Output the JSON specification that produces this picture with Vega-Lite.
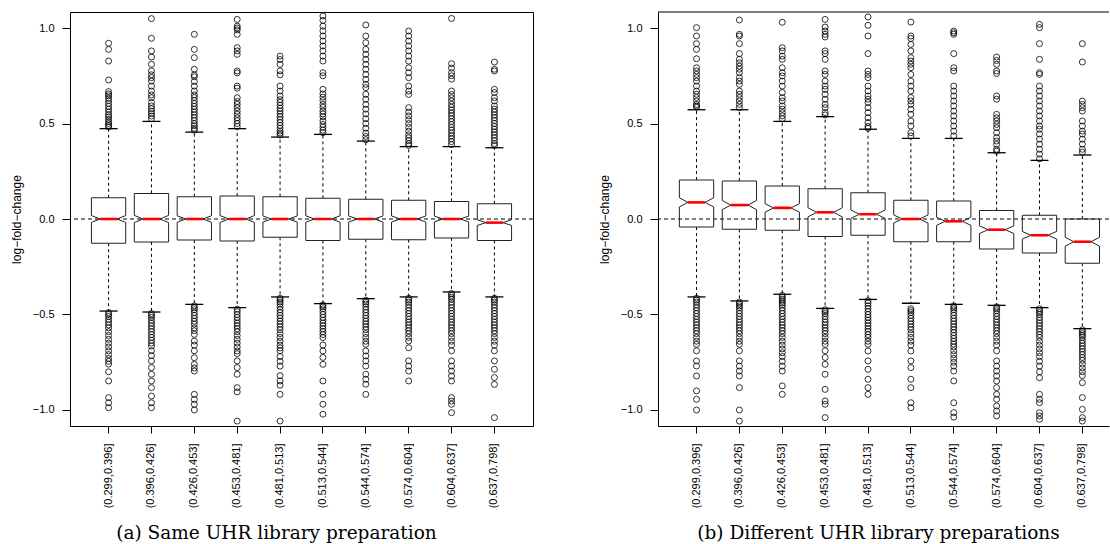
{
"$schema": "https://vega.github.io/schema/vega-lite/v6.json",
"autosize": {"type": "pad"},
"padding": {"left": 9, "top": 10, "right": 0, "bottom": 0},
"background": "white",
"bounds": "flush",
"spacing": 125,
"config": {
  "view": {"stroke": "#000", "strokeWidth": 1},
  "axis": {"grid": false, "domain": false, "tickColor": "#000", "labelColor": "#000", "titleColor": "#000", "labelFont": "Liberation Sans", "titleFont": "Liberation Sans", "titleFontWeight": "normal", "labelFontSize": 11, "titleFontSize": 12},
  "title": {"font": "DejaVu Serif", "fontSize": 18.5, "fontWeight": "normal", "color": "#000"}
},
"datasets": {
"boxA": [
{"b":"(0.299,0.396]","q1":-0.127,"q3":0.111,"med":0.0,"nlo":-0.018,"nhi":0.018,"lw":-0.482,"uw":0.473},
{"b":"(0.396,0.426]","q1":-0.120,"q3":0.134,"med":0.0,"nlo":-0.019,"nhi":0.019,"lw":-0.487,"uw":0.511},
{"b":"(0.426,0.453]","q1":-0.110,"q3":0.117,"med":0.0,"nlo":-0.017,"nhi":0.017,"lw":-0.447,"uw":0.455},
{"b":"(0.453,0.481]","q1":-0.115,"q3":0.120,"med":0.0,"nlo":-0.018,"nhi":0.018,"lw":-0.464,"uw":0.473},
{"b":"(0.481,0.513]","q1":-0.096,"q3":0.117,"med":0.0,"nlo":-0.016,"nhi":0.016,"lw":-0.408,"uw":0.429},
{"b":"(0.513,0.544]","q1":-0.112,"q3":0.108,"med":0.0,"nlo":-0.017,"nhi":0.017,"lw":-0.443,"uw":0.443},
{"b":"(0.544,0.574]","q1":-0.106,"q3":0.103,"med":0.0,"nlo":-0.016,"nhi":0.016,"lw":-0.417,"uw":0.408},
{"b":"(0.574,0.604]","q1":-0.108,"q3":0.098,"med":0.0,"nlo":-0.016,"nhi":0.016,"lw":-0.408,"uw":0.379},
{"b":"(0.604,0.637]","q1":-0.099,"q3":0.092,"med":0.0,"nlo":-0.015,"nhi":0.015,"lw":-0.382,"uw":0.379},
{"b":"(0.637,0.798]","q1":-0.112,"q3":0.080,"med":-0.019,"nlo":-0.034,"nhi":-0.004,"lw":-0.408,"uw":0.373}
],
"boxB": [
{"b":"(0.299,0.396]","q1":-0.042,"q3":0.204,"med":0.087,"nlo":0.063,"nhi":0.111,"lw":-0.408,"uw":0.572},
{"b":"(0.396,0.426]","q1":-0.054,"q3":0.199,"med":0.073,"nlo":0.049,"nhi":0.097,"lw":-0.429,"uw":0.572},
{"b":"(0.426,0.453]","q1":-0.059,"q3":0.173,"med":0.058,"nlo":0.036,"nhi":0.080,"lw":-0.394,"uw":0.511},
{"b":"(0.453,0.481]","q1":-0.091,"q3":0.159,"med":0.035,"nlo":0.011,"nhi":0.059,"lw":-0.468,"uw":0.536},
{"b":"(0.481,0.513]","q1":-0.085,"q3":0.138,"med":0.025,"nlo":0.003,"nhi":0.047,"lw":-0.421,"uw":0.470},
{"b":"(0.513,0.544]","q1":-0.119,"q3":0.098,"med":0.0,"nlo":-0.021,"nhi":0.021,"lw":-0.441,"uw":0.422},
{"b":"(0.544,0.574]","q1":-0.119,"q3":0.094,"med":-0.012,"nlo":-0.033,"nhi":0.009,"lw":-0.447,"uw":0.422},
{"b":"(0.574,0.604]","q1":-0.157,"q3":0.045,"med":-0.056,"nlo":-0.076,"nhi":-0.036,"lw":-0.452,"uw":0.347},
{"b":"(0.604,0.637]","q1":-0.178,"q3":0.019,"med":-0.085,"nlo":-0.105,"nhi":-0.065,"lw":-0.464,"uw":0.307},
{"b":"(0.637,0.798]","q1":-0.232,"q3":0.0,"med":-0.119,"nlo":-0.142,"nhi":-0.096,"lw":-0.574,"uw":0.335}
],
"outA": [
{"b":"(0.299,0.396]","v":0.920},{"b":"(0.299,0.396]","v":0.888},{"b":"(0.299,0.396]","v":0.827},{"b":"(0.299,0.396]","v":0.728},{"b":"(0.299,0.396]","v":0.667},{"b":"(0.299,0.396]","v":0.655},{"b":"(0.299,0.396]","v":0.645},{"b":"(0.299,0.396]","v":0.632},{"b":"(0.299,0.396]","v":0.620},{"b":"(0.299,0.396]","v":0.605},{"b":"(0.299,0.396]","v":0.590},{"b":"(0.299,0.396]","v":0.575},{"b":"(0.299,0.396]","v":0.560},{"b":"(0.299,0.396]","v":0.545},{"b":"(0.299,0.396]","v":0.535},{"b":"(0.299,0.396]","v":0.522},{"b":"(0.299,0.396]","v":0.510},{"b":"(0.299,0.396]","v":0.500},{"b":"(0.299,0.396]","v":0.490},{"b":"(0.299,0.396]","v":0.482},
{"b":"(0.299,0.396]","v":-0.490},{"b":"(0.299,0.396]","v":-0.500},{"b":"(0.299,0.396]","v":-0.510},{"b":"(0.299,0.396]","v":-0.525},{"b":"(0.299,0.396]","v":-0.540},{"b":"(0.299,0.396]","v":-0.555},{"b":"(0.299,0.396]","v":-0.570},{"b":"(0.299,0.396]","v":-0.590},{"b":"(0.299,0.396]","v":-0.610},{"b":"(0.299,0.396]","v":-0.630},{"b":"(0.299,0.396]","v":-0.650},{"b":"(0.299,0.396]","v":-0.670},{"b":"(0.299,0.396]","v":-0.690},{"b":"(0.299,0.396]","v":-0.710},{"b":"(0.299,0.396]","v":-0.730},{"b":"(0.299,0.396]","v":-0.745},{"b":"(0.299,0.396]","v":-0.760},{"b":"(0.299,0.396]","v":-0.800},{"b":"(0.299,0.396]","v":-0.848},{"b":"(0.299,0.396]","v":-0.935},{"b":"(0.299,0.396]","v":-0.962},{"b":"(0.299,0.396]","v":-0.988},
{"b":"(0.396,0.426]","v":1.049},{"b":"(0.396,0.426]","v":0.946},{"b":"(0.396,0.426]","v":0.880},{"b":"(0.396,0.426]","v":0.848},{"b":"(0.396,0.426]","v":0.810},{"b":"(0.396,0.426]","v":0.775},{"b":"(0.396,0.426]","v":0.755},{"b":"(0.396,0.426]","v":0.740},{"b":"(0.396,0.426]","v":0.722},{"b":"(0.396,0.426]","v":0.696},{"b":"(0.396,0.426]","v":0.670},{"b":"(0.396,0.426]","v":0.650},{"b":"(0.396,0.426]","v":0.635},{"b":"(0.396,0.426]","v":0.610},{"b":"(0.396,0.426]","v":0.592},{"b":"(0.396,0.426]","v":0.578},{"b":"(0.396,0.426]","v":0.565},{"b":"(0.396,0.426]","v":0.552},{"b":"(0.396,0.426]","v":0.539},{"b":"(0.396,0.426]","v":0.525},
{"b":"(0.396,0.426]","v":-0.495},{"b":"(0.396,0.426]","v":-0.505},{"b":"(0.396,0.426]","v":-0.515},{"b":"(0.396,0.426]","v":-0.530},{"b":"(0.396,0.426]","v":-0.545},{"b":"(0.396,0.426]","v":-0.560},{"b":"(0.396,0.426]","v":-0.575},{"b":"(0.396,0.426]","v":-0.590},{"b":"(0.396,0.426]","v":-0.605},{"b":"(0.396,0.426]","v":-0.620},{"b":"(0.396,0.426]","v":-0.635},{"b":"(0.396,0.426]","v":-0.650},{"b":"(0.396,0.426]","v":-0.665},{"b":"(0.396,0.426]","v":-0.690},{"b":"(0.396,0.426]","v":-0.715},{"b":"(0.396,0.426]","v":-0.743},{"b":"(0.396,0.426]","v":-0.778},{"b":"(0.396,0.426]","v":-0.813},{"b":"(0.396,0.426]","v":-0.848},{"b":"(0.396,0.426]","v":-0.883},{"b":"(0.396,0.426]","v":-0.927},{"b":"(0.396,0.426]","v":-0.962},{"b":"(0.396,0.426]","v":-0.988},
{"b":"(0.426,0.453]","v":0.967},{"b":"(0.426,0.453]","v":0.888},{"b":"(0.426,0.453]","v":0.845},{"b":"(0.426,0.453]","v":0.784},{"b":"(0.426,0.453]","v":0.755},{"b":"(0.426,0.453]","v":0.745},{"b":"(0.426,0.453]","v":0.720},{"b":"(0.426,0.453]","v":0.696},{"b":"(0.426,0.453]","v":0.670},{"b":"(0.426,0.453]","v":0.650},{"b":"(0.426,0.453]","v":0.636},{"b":"(0.426,0.453]","v":0.620},{"b":"(0.426,0.453]","v":0.605},{"b":"(0.426,0.453]","v":0.590},{"b":"(0.426,0.453]","v":0.575},{"b":"(0.426,0.453]","v":0.560},{"b":"(0.426,0.453]","v":0.545},{"b":"(0.426,0.453]","v":0.530},{"b":"(0.426,0.453]","v":0.515},{"b":"(0.426,0.453]","v":0.500},{"b":"(0.426,0.453]","v":0.488},{"b":"(0.426,0.453]","v":0.475},{"b":"(0.426,0.453]","v":0.465},
{"b":"(0.426,0.453]","v":-0.455},{"b":"(0.426,0.453]","v":-0.465},{"b":"(0.426,0.453]","v":-0.475},{"b":"(0.426,0.453]","v":-0.490},{"b":"(0.426,0.453]","v":-0.505},{"b":"(0.426,0.453]","v":-0.520},{"b":"(0.426,0.453]","v":-0.535},{"b":"(0.426,0.453]","v":-0.550},{"b":"(0.426,0.453]","v":-0.570},{"b":"(0.426,0.453]","v":-0.585},{"b":"(0.426,0.453]","v":-0.604},{"b":"(0.426,0.453]","v":-0.639},{"b":"(0.426,0.453]","v":-0.660},{"b":"(0.426,0.453]","v":-0.690},{"b":"(0.426,0.453]","v":-0.726},{"b":"(0.426,0.453]","v":-0.761},{"b":"(0.426,0.453]","v":-0.780},{"b":"(0.426,0.453]","v":-0.796},{"b":"(0.426,0.453]","v":-0.918},{"b":"(0.426,0.453]","v":-0.945},{"b":"(0.426,0.453]","v":-0.970},{"b":"(0.426,0.453]","v":-1.000},
{"b":"(0.453,0.481]","v":1.045},{"b":"(0.453,0.481]","v":1.010},{"b":"(0.453,0.481]","v":1.000},{"b":"(0.453,0.481]","v":0.990},{"b":"(0.453,0.481]","v":0.967},{"b":"(0.453,0.481]","v":0.897},{"b":"(0.453,0.481]","v":0.880},{"b":"(0.453,0.481]","v":0.862},{"b":"(0.453,0.481]","v":0.775},{"b":"(0.453,0.481]","v":0.765},{"b":"(0.453,0.481]","v":0.696},{"b":"(0.453,0.481]","v":0.685},{"b":"(0.453,0.481]","v":0.635},{"b":"(0.453,0.481]","v":0.615},{"b":"(0.453,0.481]","v":0.600},{"b":"(0.453,0.481]","v":0.583},{"b":"(0.453,0.481]","v":0.565},{"b":"(0.453,0.481]","v":0.548},{"b":"(0.453,0.481]","v":0.530},{"b":"(0.453,0.481]","v":0.515},{"b":"(0.453,0.481]","v":0.500},{"b":"(0.453,0.481]","v":0.485},
{"b":"(0.453,0.481]","v":-0.472},{"b":"(0.453,0.481]","v":-0.485},{"b":"(0.453,0.481]","v":-0.500},{"b":"(0.453,0.481]","v":-0.515},{"b":"(0.453,0.481]","v":-0.530},{"b":"(0.453,0.481]","v":-0.545},{"b":"(0.453,0.481]","v":-0.560},{"b":"(0.453,0.481]","v":-0.575},{"b":"(0.453,0.481]","v":-0.590},{"b":"(0.453,0.481]","v":-0.610},{"b":"(0.453,0.481]","v":-0.630},{"b":"(0.453,0.481]","v":-0.650},{"b":"(0.453,0.481]","v":-0.670},{"b":"(0.453,0.481]","v":-0.691},{"b":"(0.453,0.481]","v":-0.705},{"b":"(0.453,0.481]","v":-0.743},{"b":"(0.453,0.481]","v":-0.778},{"b":"(0.453,0.481]","v":-0.813},{"b":"(0.453,0.481]","v":-0.883},{"b":"(0.453,0.481]","v":-0.905},{"b":"(0.453,0.481]","v":-1.058},
{"b":"(0.481,0.513]","v":0.853},{"b":"(0.481,0.513]","v":0.835},{"b":"(0.481,0.513]","v":0.810},{"b":"(0.481,0.513]","v":0.775},{"b":"(0.481,0.513]","v":0.755},{"b":"(0.481,0.513]","v":0.696},{"b":"(0.481,0.513]","v":0.670},{"b":"(0.481,0.513]","v":0.644},{"b":"(0.481,0.513]","v":0.625},{"b":"(0.481,0.513]","v":0.610},{"b":"(0.481,0.513]","v":0.595},{"b":"(0.481,0.513]","v":0.580},{"b":"(0.481,0.513]","v":0.565},{"b":"(0.481,0.513]","v":0.550},{"b":"(0.481,0.513]","v":0.535},{"b":"(0.481,0.513]","v":0.520},{"b":"(0.481,0.513]","v":0.505},{"b":"(0.481,0.513]","v":0.490},{"b":"(0.481,0.513]","v":0.475},{"b":"(0.481,0.513]","v":0.460},{"b":"(0.481,0.513]","v":0.450},{"b":"(0.481,0.513]","v":0.440},
{"b":"(0.481,0.513]","v":-0.415},{"b":"(0.481,0.513]","v":-0.425},{"b":"(0.481,0.513]","v":-0.435},{"b":"(0.481,0.513]","v":-0.445},{"b":"(0.481,0.513]","v":-0.460},{"b":"(0.481,0.513]","v":-0.475},{"b":"(0.481,0.513]","v":-0.490},{"b":"(0.481,0.513]","v":-0.505},{"b":"(0.481,0.513]","v":-0.520},{"b":"(0.481,0.513]","v":-0.535},{"b":"(0.481,0.513]","v":-0.550},{"b":"(0.481,0.513]","v":-0.565},{"b":"(0.481,0.513]","v":-0.580},{"b":"(0.481,0.513]","v":-0.600},{"b":"(0.481,0.513]","v":-0.620},{"b":"(0.481,0.513]","v":-0.640},{"b":"(0.481,0.513]","v":-0.660},{"b":"(0.481,0.513]","v":-0.675},{"b":"(0.481,0.513]","v":-0.690},{"b":"(0.481,0.513]","v":-0.720},{"b":"(0.481,0.513]","v":-0.745},{"b":"(0.481,0.513]","v":-0.770},{"b":"(0.481,0.513]","v":-0.820},{"b":"(0.481,0.513]","v":-0.848},{"b":"(0.481,0.513]","v":-0.870},{"b":"(0.481,0.513]","v":-0.918},{"b":"(0.481,0.513]","v":-1.058},
{"b":"(0.513,0.544]","v":1.063},{"b":"(0.513,0.544]","v":1.040},{"b":"(0.513,0.544]","v":1.010},{"b":"(0.513,0.544]","v":0.985},{"b":"(0.513,0.544]","v":0.958},{"b":"(0.513,0.544]","v":0.932},{"b":"(0.513,0.544]","v":0.906},{"b":"(0.513,0.544]","v":0.880},{"b":"(0.513,0.544]","v":0.853},{"b":"(0.513,0.544]","v":0.827},{"b":"(0.513,0.544]","v":0.766},{"b":"(0.513,0.544]","v":0.750},{"b":"(0.513,0.544]","v":0.679},{"b":"(0.513,0.544]","v":0.655},{"b":"(0.513,0.544]","v":0.638},{"b":"(0.513,0.544]","v":0.620},{"b":"(0.513,0.544]","v":0.600},{"b":"(0.513,0.544]","v":0.585},{"b":"(0.513,0.544]","v":0.565},{"b":"(0.513,0.544]","v":0.550},{"b":"(0.513,0.544]","v":0.535},{"b":"(0.513,0.544]","v":0.513},{"b":"(0.513,0.544]","v":0.495},{"b":"(0.513,0.544]","v":0.480},{"b":"(0.513,0.544]","v":0.465},{"b":"(0.513,0.544]","v":0.452},
{"b":"(0.513,0.544]","v":-0.450},{"b":"(0.513,0.544]","v":-0.460},{"b":"(0.513,0.544]","v":-0.470},{"b":"(0.513,0.544]","v":-0.485},{"b":"(0.513,0.544]","v":-0.500},{"b":"(0.513,0.544]","v":-0.515},{"b":"(0.513,0.544]","v":-0.530},{"b":"(0.513,0.544]","v":-0.545},{"b":"(0.513,0.544]","v":-0.560},{"b":"(0.513,0.544]","v":-0.575},{"b":"(0.513,0.544]","v":-0.590},{"b":"(0.513,0.544]","v":-0.605},{"b":"(0.513,0.544]","v":-0.621},{"b":"(0.513,0.544]","v":-0.660},{"b":"(0.513,0.544]","v":-0.691},{"b":"(0.513,0.544]","v":-0.725},{"b":"(0.513,0.544]","v":-0.761},{"b":"(0.513,0.544]","v":-0.848},{"b":"(0.513,0.544]","v":-0.918},{"b":"(0.513,0.544]","v":-0.970},{"b":"(0.513,0.544]","v":-1.022},
{"b":"(0.544,0.574]","v":1.016},{"b":"(0.544,0.574]","v":0.958},{"b":"(0.544,0.574]","v":0.923},{"b":"(0.544,0.574]","v":0.888},{"b":"(0.544,0.574]","v":0.862},{"b":"(0.544,0.574]","v":0.836},{"b":"(0.544,0.574]","v":0.810},{"b":"(0.544,0.574]","v":0.784},{"b":"(0.544,0.574]","v":0.757},{"b":"(0.544,0.574]","v":0.731},{"b":"(0.544,0.574]","v":0.705},{"b":"(0.544,0.574]","v":0.688},{"b":"(0.544,0.574]","v":0.653},{"b":"(0.544,0.574]","v":0.627},{"b":"(0.544,0.574]","v":0.600},{"b":"(0.544,0.574]","v":0.575},{"b":"(0.544,0.574]","v":0.550},{"b":"(0.544,0.574]","v":0.525},{"b":"(0.544,0.574]","v":0.500},{"b":"(0.544,0.574]","v":0.475},{"b":"(0.544,0.574]","v":0.450},{"b":"(0.544,0.574]","v":0.432},{"b":"(0.544,0.574]","v":0.415},
{"b":"(0.544,0.574]","v":-0.425},{"b":"(0.544,0.574]","v":-0.435},{"b":"(0.544,0.574]","v":-0.445},{"b":"(0.544,0.574]","v":-0.460},{"b":"(0.544,0.574]","v":-0.475},{"b":"(0.544,0.574]","v":-0.490},{"b":"(0.544,0.574]","v":-0.505},{"b":"(0.544,0.574]","v":-0.520},{"b":"(0.544,0.574]","v":-0.535},{"b":"(0.544,0.574]","v":-0.550},{"b":"(0.544,0.574]","v":-0.565},{"b":"(0.544,0.574]","v":-0.580},{"b":"(0.544,0.574]","v":-0.600},{"b":"(0.544,0.574]","v":-0.620},{"b":"(0.544,0.574]","v":-0.640},{"b":"(0.544,0.574]","v":-0.656},{"b":"(0.544,0.574]","v":-0.691},{"b":"(0.544,0.574]","v":-0.717},{"b":"(0.544,0.574]","v":-0.743},{"b":"(0.544,0.574]","v":-0.770},{"b":"(0.544,0.574]","v":-0.813},{"b":"(0.544,0.574]","v":-0.839},{"b":"(0.544,0.574]","v":-0.865},{"b":"(0.544,0.574]","v":-0.918},
{"b":"(0.574,0.604]","v":0.984},{"b":"(0.574,0.604]","v":0.958},{"b":"(0.574,0.604]","v":0.932},{"b":"(0.574,0.604]","v":0.906},{"b":"(0.574,0.604]","v":0.880},{"b":"(0.574,0.604]","v":0.853},{"b":"(0.574,0.604]","v":0.827},{"b":"(0.574,0.604]","v":0.792},{"b":"(0.574,0.604]","v":0.766},{"b":"(0.574,0.604]","v":0.740},{"b":"(0.574,0.604]","v":0.696},{"b":"(0.574,0.604]","v":0.670},{"b":"(0.574,0.604]","v":0.652},{"b":"(0.574,0.604]","v":0.583},{"b":"(0.574,0.604]","v":0.560},{"b":"(0.574,0.604]","v":0.540},{"b":"(0.574,0.604]","v":0.520},{"b":"(0.574,0.604]","v":0.500},{"b":"(0.574,0.604]","v":0.480},{"b":"(0.574,0.604]","v":0.460},{"b":"(0.574,0.604]","v":0.440},{"b":"(0.574,0.604]","v":0.425},{"b":"(0.574,0.604]","v":0.410},{"b":"(0.574,0.604]","v":0.395},{"b":"(0.574,0.604]","v":0.385},
{"b":"(0.574,0.604]","v":-0.415},{"b":"(0.574,0.604]","v":-0.425},{"b":"(0.574,0.604]","v":-0.435},{"b":"(0.574,0.604]","v":-0.450},{"b":"(0.574,0.604]","v":-0.465},{"b":"(0.574,0.604]","v":-0.480},{"b":"(0.574,0.604]","v":-0.495},{"b":"(0.574,0.604]","v":-0.510},{"b":"(0.574,0.604]","v":-0.525},{"b":"(0.574,0.604]","v":-0.540},{"b":"(0.574,0.604]","v":-0.555},{"b":"(0.574,0.604]","v":-0.570},{"b":"(0.574,0.604]","v":-0.585},{"b":"(0.574,0.604]","v":-0.600},{"b":"(0.574,0.604]","v":-0.620},{"b":"(0.574,0.604]","v":-0.639},{"b":"(0.574,0.604]","v":-0.674},{"b":"(0.574,0.604]","v":-0.743},{"b":"(0.574,0.604]","v":-0.770},{"b":"(0.574,0.604]","v":-0.796},{"b":"(0.574,0.604]","v":-0.848},
{"b":"(0.604,0.637]","v":1.050},{"b":"(0.604,0.637]","v":0.813},{"b":"(0.604,0.637]","v":0.790},{"b":"(0.604,0.637]","v":0.766},{"b":"(0.604,0.637]","v":0.750},{"b":"(0.604,0.637]","v":0.732},{"b":"(0.604,0.637]","v":0.670},{"b":"(0.604,0.637]","v":0.652},{"b":"(0.604,0.637]","v":0.635},{"b":"(0.604,0.637]","v":0.618},{"b":"(0.604,0.637]","v":0.600},{"b":"(0.604,0.637]","v":0.585},{"b":"(0.604,0.637]","v":0.570},{"b":"(0.604,0.637]","v":0.555},{"b":"(0.604,0.637]","v":0.540},{"b":"(0.604,0.637]","v":0.525},{"b":"(0.604,0.637]","v":0.510},{"b":"(0.604,0.637]","v":0.495},{"b":"(0.604,0.637]","v":0.480},{"b":"(0.604,0.637]","v":0.465},{"b":"(0.604,0.637]","v":0.450},{"b":"(0.604,0.637]","v":0.435},{"b":"(0.604,0.637]","v":0.420},{"b":"(0.604,0.637]","v":0.405},{"b":"(0.604,0.637]","v":0.390},
{"b":"(0.604,0.637]","v":-0.390},{"b":"(0.604,0.637]","v":-0.400},{"b":"(0.604,0.637]","v":-0.410},{"b":"(0.604,0.637]","v":-0.420},{"b":"(0.604,0.637]","v":-0.435},{"b":"(0.604,0.637]","v":-0.450},{"b":"(0.604,0.637]","v":-0.465},{"b":"(0.604,0.637]","v":-0.480},{"b":"(0.604,0.637]","v":-0.495},{"b":"(0.604,0.637]","v":-0.510},{"b":"(0.604,0.637]","v":-0.525},{"b":"(0.604,0.637]","v":-0.540},{"b":"(0.604,0.637]","v":-0.555},{"b":"(0.604,0.637]","v":-0.570},{"b":"(0.604,0.637]","v":-0.585},{"b":"(0.604,0.637]","v":-0.600},{"b":"(0.604,0.637]","v":-0.620},{"b":"(0.604,0.637]","v":-0.640},{"b":"(0.604,0.637]","v":-0.660},{"b":"(0.604,0.637]","v":-0.690},{"b":"(0.604,0.637]","v":-0.743},{"b":"(0.604,0.637]","v":-0.770},{"b":"(0.604,0.637]","v":-0.796},{"b":"(0.604,0.637]","v":-0.822},{"b":"(0.604,0.637]","v":-0.848},{"b":"(0.604,0.637]","v":-0.935},{"b":"(0.604,0.637]","v":-0.953},{"b":"(0.604,0.637]","v":-0.970},{"b":"(0.604,0.637]","v":-1.014},
{"b":"(0.637,0.798]","v":0.822},{"b":"(0.637,0.798]","v":0.784},{"b":"(0.637,0.798]","v":0.775},{"b":"(0.637,0.798]","v":0.679},{"b":"(0.637,0.798]","v":0.662},{"b":"(0.637,0.798]","v":0.635},{"b":"(0.637,0.798]","v":0.618},{"b":"(0.637,0.798]","v":0.592},{"b":"(0.637,0.798]","v":0.575},{"b":"(0.637,0.798]","v":0.560},{"b":"(0.637,0.798]","v":0.545},{"b":"(0.637,0.798]","v":0.530},{"b":"(0.637,0.798]","v":0.515},{"b":"(0.637,0.798]","v":0.500},{"b":"(0.637,0.798]","v":0.485},{"b":"(0.637,0.798]","v":0.470},{"b":"(0.637,0.798]","v":0.455},{"b":"(0.637,0.798]","v":0.440},{"b":"(0.637,0.798]","v":0.425},{"b":"(0.637,0.798]","v":0.410},{"b":"(0.637,0.798]","v":0.395},{"b":"(0.637,0.798]","v":0.385},
{"b":"(0.637,0.798]","v":-0.415},{"b":"(0.637,0.798]","v":-0.425},{"b":"(0.637,0.798]","v":-0.435},{"b":"(0.637,0.798]","v":-0.450},{"b":"(0.637,0.798]","v":-0.465},{"b":"(0.637,0.798]","v":-0.480},{"b":"(0.637,0.798]","v":-0.495},{"b":"(0.637,0.798]","v":-0.510},{"b":"(0.637,0.798]","v":-0.525},{"b":"(0.637,0.798]","v":-0.540},{"b":"(0.637,0.798]","v":-0.555},{"b":"(0.637,0.798]","v":-0.570},{"b":"(0.637,0.798]","v":-0.585},{"b":"(0.637,0.798]","v":-0.600},{"b":"(0.637,0.798]","v":-0.620},{"b":"(0.637,0.798]","v":-0.640},{"b":"(0.637,0.798]","v":-0.660},{"b":"(0.637,0.798]","v":-0.690},{"b":"(0.637,0.798]","v":-0.743},{"b":"(0.637,0.798]","v":-0.787},{"b":"(0.637,0.798]","v":-0.830},{"b":"(0.637,0.798]","v":-0.866},{"b":"(0.637,0.798]","v":-1.040}
],
"outB": [
{"b":"(0.299,0.396]","v":1.002},{"b":"(0.299,0.396]","v":0.958},{"b":"(0.299,0.396]","v":0.918},{"b":"(0.299,0.396]","v":0.888},{"b":"(0.299,0.396]","v":0.839},{"b":"(0.299,0.396]","v":0.792},{"b":"(0.299,0.396]","v":0.775},{"b":"(0.299,0.396]","v":0.757},{"b":"(0.299,0.396]","v":0.740},{"b":"(0.299,0.396]","v":0.722},{"b":"(0.299,0.396]","v":0.696},{"b":"(0.299,0.396]","v":0.670},{"b":"(0.299,0.396]","v":0.653},{"b":"(0.299,0.396]","v":0.636},{"b":"(0.299,0.396]","v":0.618},{"b":"(0.299,0.396]","v":0.600},{"b":"(0.299,0.396]","v":0.592},{"b":"(0.299,0.396]","v":0.585},
{"b":"(0.299,0.396]","v":-0.415},{"b":"(0.299,0.396]","v":-0.425},{"b":"(0.299,0.396]","v":-0.435},{"b":"(0.299,0.396]","v":-0.450},{"b":"(0.299,0.396]","v":-0.465},{"b":"(0.299,0.396]","v":-0.480},{"b":"(0.299,0.396]","v":-0.495},{"b":"(0.299,0.396]","v":-0.510},{"b":"(0.299,0.396]","v":-0.525},{"b":"(0.299,0.396]","v":-0.540},{"b":"(0.299,0.396]","v":-0.555},{"b":"(0.299,0.396]","v":-0.570},{"b":"(0.299,0.396]","v":-0.585},{"b":"(0.299,0.396]","v":-0.600},{"b":"(0.299,0.396]","v":-0.620},{"b":"(0.299,0.396]","v":-0.640},{"b":"(0.299,0.396]","v":-0.656},{"b":"(0.299,0.396]","v":-0.690},{"b":"(0.299,0.396]","v":-0.743},{"b":"(0.299,0.396]","v":-0.770},{"b":"(0.299,0.396]","v":-0.822},{"b":"(0.299,0.396]","v":-0.900},{"b":"(0.299,0.396]","v":-0.944},{"b":"(0.299,0.396]","v":-1.000},
{"b":"(0.396,0.426]","v":1.042},{"b":"(0.396,0.426]","v":0.967},{"b":"(0.396,0.426]","v":0.958},{"b":"(0.396,0.426]","v":0.918},{"b":"(0.396,0.426]","v":0.866},{"b":"(0.396,0.426]","v":0.836},{"b":"(0.396,0.426]","v":0.818},{"b":"(0.396,0.426]","v":0.800},{"b":"(0.396,0.426]","v":0.784},{"b":"(0.396,0.426]","v":0.766},{"b":"(0.396,0.426]","v":0.740},{"b":"(0.396,0.426]","v":0.722},{"b":"(0.396,0.426]","v":0.705},{"b":"(0.396,0.426]","v":0.670},{"b":"(0.396,0.426]","v":0.653},{"b":"(0.396,0.426]","v":0.636},{"b":"(0.396,0.426]","v":0.618},{"b":"(0.396,0.426]","v":0.600},{"b":"(0.396,0.426]","v":0.583},
{"b":"(0.396,0.426]","v":-0.435},{"b":"(0.396,0.426]","v":-0.445},{"b":"(0.396,0.426]","v":-0.455},{"b":"(0.396,0.426]","v":-0.465},{"b":"(0.396,0.426]","v":-0.480},{"b":"(0.396,0.426]","v":-0.495},{"b":"(0.396,0.426]","v":-0.510},{"b":"(0.396,0.426]","v":-0.525},{"b":"(0.396,0.426]","v":-0.540},{"b":"(0.396,0.426]","v":-0.555},{"b":"(0.396,0.426]","v":-0.570},{"b":"(0.396,0.426]","v":-0.585},{"b":"(0.396,0.426]","v":-0.600},{"b":"(0.396,0.426]","v":-0.620},{"b":"(0.396,0.426]","v":-0.640},{"b":"(0.396,0.426]","v":-0.656},{"b":"(0.396,0.426]","v":-0.690},{"b":"(0.396,0.426]","v":-0.743},{"b":"(0.396,0.426]","v":-0.770},{"b":"(0.396,0.426]","v":-0.796},{"b":"(0.396,0.426]","v":-0.822},{"b":"(0.396,0.426]","v":-0.883},{"b":"(0.396,0.426]","v":-1.000},{"b":"(0.396,0.426]","v":-1.058},
{"b":"(0.426,0.453]","v":1.030},{"b":"(0.426,0.453]","v":0.897},{"b":"(0.426,0.453]","v":0.880},{"b":"(0.426,0.453]","v":0.853},{"b":"(0.426,0.453]","v":0.836},{"b":"(0.426,0.453]","v":0.792},{"b":"(0.426,0.453]","v":0.766},{"b":"(0.426,0.453]","v":0.749},{"b":"(0.426,0.453]","v":0.722},{"b":"(0.426,0.453]","v":0.696},{"b":"(0.426,0.453]","v":0.662},{"b":"(0.426,0.453]","v":0.635},{"b":"(0.426,0.453]","v":0.618},{"b":"(0.426,0.453]","v":0.592},{"b":"(0.426,0.453]","v":0.575},{"b":"(0.426,0.453]","v":0.557},{"b":"(0.426,0.453]","v":0.540},{"b":"(0.426,0.453]","v":0.525},
{"b":"(0.426,0.453]","v":-0.400},{"b":"(0.426,0.453]","v":-0.410},{"b":"(0.426,0.453]","v":-0.420},{"b":"(0.426,0.453]","v":-0.430},{"b":"(0.426,0.453]","v":-0.440},{"b":"(0.426,0.453]","v":-0.450},{"b":"(0.426,0.453]","v":-0.465},{"b":"(0.426,0.453]","v":-0.480},{"b":"(0.426,0.453]","v":-0.495},{"b":"(0.426,0.453]","v":-0.510},{"b":"(0.426,0.453]","v":-0.525},{"b":"(0.426,0.453]","v":-0.540},{"b":"(0.426,0.453]","v":-0.555},{"b":"(0.426,0.453]","v":-0.570},{"b":"(0.426,0.453]","v":-0.585},{"b":"(0.426,0.453]","v":-0.600},{"b":"(0.426,0.453]","v":-0.620},{"b":"(0.426,0.453]","v":-0.640},{"b":"(0.426,0.453]","v":-0.660},{"b":"(0.426,0.453]","v":-0.680},{"b":"(0.426,0.453]","v":-0.700},{"b":"(0.426,0.453]","v":-0.720},{"b":"(0.426,0.453]","v":-0.745},{"b":"(0.426,0.453]","v":-0.770},{"b":"(0.426,0.453]","v":-0.796},{"b":"(0.426,0.453]","v":-0.874},{"b":"(0.426,0.453]","v":-0.918},
{"b":"(0.453,0.481]","v":1.045},{"b":"(0.453,0.481]","v":1.005},{"b":"(0.453,0.481]","v":0.984},{"b":"(0.453,0.481]","v":0.967},{"b":"(0.453,0.481]","v":0.953},{"b":"(0.453,0.481]","v":0.880},{"b":"(0.453,0.481]","v":0.866},{"b":"(0.453,0.481]","v":0.836},{"b":"(0.453,0.481]","v":0.775},{"b":"(0.453,0.481]","v":0.757},{"b":"(0.453,0.481]","v":0.722},{"b":"(0.453,0.481]","v":0.696},{"b":"(0.453,0.481]","v":0.679},{"b":"(0.453,0.481]","v":0.653},{"b":"(0.453,0.481]","v":0.627},{"b":"(0.453,0.481]","v":0.600},{"b":"(0.453,0.481]","v":0.583},{"b":"(0.453,0.481]","v":0.557},{"b":"(0.453,0.481]","v":0.545},
{"b":"(0.453,0.481]","v":-0.475},{"b":"(0.453,0.481]","v":-0.485},{"b":"(0.453,0.481]","v":-0.495},{"b":"(0.453,0.481]","v":-0.510},{"b":"(0.453,0.481]","v":-0.525},{"b":"(0.453,0.481]","v":-0.540},{"b":"(0.453,0.481]","v":-0.555},{"b":"(0.453,0.481]","v":-0.570},{"b":"(0.453,0.481]","v":-0.585},{"b":"(0.453,0.481]","v":-0.600},{"b":"(0.453,0.481]","v":-0.620},{"b":"(0.453,0.481]","v":-0.640},{"b":"(0.453,0.481]","v":-0.656},{"b":"(0.453,0.481]","v":-0.690},{"b":"(0.453,0.481]","v":-0.725},{"b":"(0.453,0.481]","v":-0.761},{"b":"(0.453,0.481]","v":-0.813},{"b":"(0.453,0.481]","v":-0.892},{"b":"(0.453,0.481]","v":-0.953},{"b":"(0.453,0.481]","v":-0.970},{"b":"(0.453,0.481]","v":-1.040},
{"b":"(0.481,0.513]","v":1.058},{"b":"(0.481,0.513]","v":1.014},{"b":"(0.481,0.513]","v":0.958},{"b":"(0.481,0.513]","v":0.866},{"b":"(0.481,0.513]","v":0.775},{"b":"(0.481,0.513]","v":0.757},{"b":"(0.481,0.513]","v":0.740},{"b":"(0.481,0.513]","v":0.696},{"b":"(0.481,0.513]","v":0.670},{"b":"(0.481,0.513]","v":0.644},{"b":"(0.481,0.513]","v":0.627},{"b":"(0.481,0.513]","v":0.610},{"b":"(0.481,0.513]","v":0.583},{"b":"(0.481,0.513]","v":0.557},{"b":"(0.481,0.513]","v":0.530},{"b":"(0.481,0.513]","v":0.505},{"b":"(0.481,0.513]","v":0.485},{"b":"(0.481,0.513]","v":0.475},
{"b":"(0.481,0.513]","v":-0.428},{"b":"(0.481,0.513]","v":-0.440},{"b":"(0.481,0.513]","v":-0.455},{"b":"(0.481,0.513]","v":-0.470},{"b":"(0.481,0.513]","v":-0.485},{"b":"(0.481,0.513]","v":-0.500},{"b":"(0.481,0.513]","v":-0.515},{"b":"(0.481,0.513]","v":-0.530},{"b":"(0.481,0.513]","v":-0.545},{"b":"(0.481,0.513]","v":-0.560},{"b":"(0.481,0.513]","v":-0.575},{"b":"(0.481,0.513]","v":-0.590},{"b":"(0.481,0.513]","v":-0.605},{"b":"(0.481,0.513]","v":-0.620},{"b":"(0.481,0.513]","v":-0.640},{"b":"(0.481,0.513]","v":-0.656},{"b":"(0.481,0.513]","v":-0.691},{"b":"(0.481,0.513]","v":-0.743},{"b":"(0.481,0.513]","v":-0.787},{"b":"(0.481,0.513]","v":-0.839},{"b":"(0.481,0.513]","v":-0.883},{"b":"(0.481,0.513]","v":-0.918},
{"b":"(0.513,0.544]","v":1.031},{"b":"(0.513,0.544]","v":0.958},{"b":"(0.513,0.544]","v":0.945},{"b":"(0.513,0.544]","v":0.914},{"b":"(0.513,0.544]","v":0.880},{"b":"(0.513,0.544]","v":0.845},{"b":"(0.513,0.544]","v":0.827},{"b":"(0.513,0.544]","v":0.810},{"b":"(0.513,0.544]","v":0.792},{"b":"(0.513,0.544]","v":0.757},{"b":"(0.513,0.544]","v":0.722},{"b":"(0.513,0.544]","v":0.696},{"b":"(0.513,0.544]","v":0.670},{"b":"(0.513,0.544]","v":0.636},{"b":"(0.513,0.544]","v":0.618},{"b":"(0.513,0.544]","v":0.600},{"b":"(0.513,0.544]","v":0.575},{"b":"(0.513,0.544]","v":0.548},{"b":"(0.513,0.544]","v":0.513},{"b":"(0.513,0.544]","v":0.487},{"b":"(0.513,0.544]","v":0.452},{"b":"(0.513,0.544]","v":0.435},
{"b":"(0.513,0.544]","v":-0.470},{"b":"(0.513,0.544]","v":-0.480},{"b":"(0.513,0.544]","v":-0.490},{"b":"(0.513,0.544]","v":-0.505},{"b":"(0.513,0.544]","v":-0.520},{"b":"(0.513,0.544]","v":-0.535},{"b":"(0.513,0.544]","v":-0.550},{"b":"(0.513,0.544]","v":-0.565},{"b":"(0.513,0.544]","v":-0.580},{"b":"(0.513,0.544]","v":-0.600},{"b":"(0.513,0.544]","v":-0.620},{"b":"(0.513,0.544]","v":-0.640},{"b":"(0.513,0.544]","v":-0.660},{"b":"(0.513,0.544]","v":-0.691},{"b":"(0.513,0.544]","v":-0.743},{"b":"(0.513,0.544]","v":-0.778},{"b":"(0.513,0.544]","v":-0.839},{"b":"(0.513,0.544]","v":-0.883},{"b":"(0.513,0.544]","v":-0.962},{"b":"(0.513,0.544]","v":-0.988},
{"b":"(0.544,0.574]","v":0.984},{"b":"(0.544,0.574]","v":0.975},{"b":"(0.544,0.574]","v":0.967},{"b":"(0.544,0.574]","v":0.866},{"b":"(0.544,0.574]","v":0.792},{"b":"(0.544,0.574]","v":0.775},{"b":"(0.544,0.574]","v":0.696},{"b":"(0.544,0.574]","v":0.670},{"b":"(0.544,0.574]","v":0.644},{"b":"(0.544,0.574]","v":0.618},{"b":"(0.544,0.574]","v":0.592},{"b":"(0.544,0.574]","v":0.565},{"b":"(0.544,0.574]","v":0.540},{"b":"(0.544,0.574]","v":0.513},{"b":"(0.544,0.574]","v":0.487},{"b":"(0.544,0.574]","v":0.460},{"b":"(0.544,0.574]","v":0.435},
{"b":"(0.544,0.574]","v":-0.455},{"b":"(0.544,0.574]","v":-0.465},{"b":"(0.544,0.574]","v":-0.475},{"b":"(0.544,0.574]","v":-0.490},{"b":"(0.544,0.574]","v":-0.505},{"b":"(0.544,0.574]","v":-0.520},{"b":"(0.544,0.574]","v":-0.535},{"b":"(0.544,0.574]","v":-0.550},{"b":"(0.544,0.574]","v":-0.565},{"b":"(0.544,0.574]","v":-0.580},{"b":"(0.544,0.574]","v":-0.595},{"b":"(0.544,0.574]","v":-0.610},{"b":"(0.544,0.574]","v":-0.625},{"b":"(0.544,0.574]","v":-0.640},{"b":"(0.544,0.574]","v":-0.655},{"b":"(0.544,0.574]","v":-0.670},{"b":"(0.544,0.574]","v":-0.690},{"b":"(0.544,0.574]","v":-0.710},{"b":"(0.544,0.574]","v":-0.730},{"b":"(0.544,0.574]","v":-0.750},{"b":"(0.544,0.574]","v":-0.770},{"b":"(0.544,0.574]","v":-0.796},{"b":"(0.544,0.574]","v":-0.848},{"b":"(0.544,0.574]","v":-0.962},{"b":"(0.544,0.574]","v":-1.014},{"b":"(0.544,0.574]","v":-1.037},
{"b":"(0.574,0.604]","v":0.848},{"b":"(0.574,0.604]","v":0.830},{"b":"(0.574,0.604]","v":0.810},{"b":"(0.574,0.604]","v":0.775},{"b":"(0.574,0.604]","v":0.762},{"b":"(0.574,0.604]","v":0.644},{"b":"(0.574,0.604]","v":0.627},{"b":"(0.574,0.604]","v":0.548},{"b":"(0.574,0.604]","v":0.530},{"b":"(0.574,0.604]","v":0.513},{"b":"(0.574,0.604]","v":0.495},{"b":"(0.574,0.604]","v":0.478},{"b":"(0.574,0.604]","v":0.452},{"b":"(0.574,0.604]","v":0.426},{"b":"(0.574,0.604]","v":0.408},{"b":"(0.574,0.604]","v":0.390},{"b":"(0.574,0.604]","v":0.365},{"b":"(0.574,0.604]","v":0.355},
{"b":"(0.574,0.604]","v":-0.460},{"b":"(0.574,0.604]","v":-0.470},{"b":"(0.574,0.604]","v":-0.480},{"b":"(0.574,0.604]","v":-0.495},{"b":"(0.574,0.604]","v":-0.510},{"b":"(0.574,0.604]","v":-0.525},{"b":"(0.574,0.604]","v":-0.540},{"b":"(0.574,0.604]","v":-0.555},{"b":"(0.574,0.604]","v":-0.570},{"b":"(0.574,0.604]","v":-0.585},{"b":"(0.574,0.604]","v":-0.600},{"b":"(0.574,0.604]","v":-0.620},{"b":"(0.574,0.604]","v":-0.640},{"b":"(0.574,0.604]","v":-0.660},{"b":"(0.574,0.604]","v":-0.690},{"b":"(0.574,0.604]","v":-0.743},{"b":"(0.574,0.604]","v":-0.770},{"b":"(0.574,0.604]","v":-0.796},{"b":"(0.574,0.604]","v":-0.822},{"b":"(0.574,0.604]","v":-0.848},{"b":"(0.574,0.604]","v":-0.883},{"b":"(0.574,0.604]","v":-0.918},{"b":"(0.574,0.604]","v":-0.944},{"b":"(0.574,0.604]","v":-0.979},{"b":"(0.574,0.604]","v":-1.005},{"b":"(0.574,0.604]","v":-1.031},
{"b":"(0.604,0.637]","v":1.019},{"b":"(0.604,0.637]","v":1.002},{"b":"(0.604,0.637]","v":0.918},{"b":"(0.604,0.637]","v":0.836},{"b":"(0.604,0.637]","v":0.766},{"b":"(0.604,0.637]","v":0.757},{"b":"(0.604,0.637]","v":0.696},{"b":"(0.604,0.637]","v":0.670},{"b":"(0.604,0.637]","v":0.644},{"b":"(0.604,0.637]","v":0.618},{"b":"(0.604,0.637]","v":0.592},{"b":"(0.604,0.637]","v":0.565},{"b":"(0.604,0.637]","v":0.540},{"b":"(0.604,0.637]","v":0.513},{"b":"(0.604,0.637]","v":0.487},{"b":"(0.604,0.637]","v":0.470},{"b":"(0.604,0.637]","v":0.445},{"b":"(0.604,0.637]","v":0.418},{"b":"(0.604,0.637]","v":0.392},{"b":"(0.604,0.637]","v":0.365},{"b":"(0.604,0.637]","v":0.340},{"b":"(0.604,0.637]","v":0.315},
{"b":"(0.604,0.637]","v":-0.470},{"b":"(0.604,0.637]","v":-0.480},{"b":"(0.604,0.637]","v":-0.490},{"b":"(0.604,0.637]","v":-0.500},{"b":"(0.604,0.637]","v":-0.515},{"b":"(0.604,0.637]","v":-0.530},{"b":"(0.604,0.637]","v":-0.545},{"b":"(0.604,0.637]","v":-0.560},{"b":"(0.604,0.637]","v":-0.575},{"b":"(0.604,0.637]","v":-0.590},{"b":"(0.604,0.637]","v":-0.605},{"b":"(0.604,0.637]","v":-0.620},{"b":"(0.604,0.637]","v":-0.640},{"b":"(0.604,0.637]","v":-0.660},{"b":"(0.604,0.637]","v":-0.680},{"b":"(0.604,0.637]","v":-0.700},{"b":"(0.604,0.637]","v":-0.720},{"b":"(0.604,0.637]","v":-0.745},{"b":"(0.604,0.637]","v":-0.770},{"b":"(0.604,0.637]","v":-0.800},{"b":"(0.604,0.637]","v":-0.831},{"b":"(0.604,0.637]","v":-0.918},{"b":"(0.604,0.637]","v":-0.944},{"b":"(0.604,0.637]","v":-0.962},{"b":"(0.604,0.637]","v":-1.014},{"b":"(0.604,0.637]","v":-1.031},{"b":"(0.604,0.637]","v":-1.049},
{"b":"(0.637,0.798]","v":0.918},{"b":"(0.637,0.798]","v":0.822},{"b":"(0.637,0.798]","v":0.618},{"b":"(0.637,0.798]","v":0.600},{"b":"(0.637,0.798]","v":0.583},{"b":"(0.637,0.798]","v":0.565},{"b":"(0.637,0.798]","v":0.513},{"b":"(0.637,0.798]","v":0.487},{"b":"(0.637,0.798]","v":0.460},{"b":"(0.637,0.798]","v":0.445},{"b":"(0.637,0.798]","v":0.418},{"b":"(0.637,0.798]","v":0.392},{"b":"(0.637,0.798]","v":0.365},{"b":"(0.637,0.798]","v":0.350},
{"b":"(0.637,0.798]","v":-0.580},{"b":"(0.637,0.798]","v":-0.590},{"b":"(0.637,0.798]","v":-0.600},{"b":"(0.637,0.798]","v":-0.610},{"b":"(0.637,0.798]","v":-0.620},{"b":"(0.637,0.798]","v":-0.635},{"b":"(0.637,0.798]","v":-0.650},{"b":"(0.637,0.798]","v":-0.665},{"b":"(0.637,0.798]","v":-0.680},{"b":"(0.637,0.798]","v":-0.695},{"b":"(0.637,0.798]","v":-0.710},{"b":"(0.637,0.798]","v":-0.725},{"b":"(0.637,0.798]","v":-0.740},{"b":"(0.637,0.798]","v":-0.760},{"b":"(0.637,0.798]","v":-0.780},{"b":"(0.637,0.798]","v":-0.800},{"b":"(0.637,0.798]","v":-0.820},{"b":"(0.637,0.798]","v":-0.857},{"b":"(0.637,0.798]","v":-0.935},{"b":"(0.637,0.798]","v":-0.997},{"b":"(0.637,0.798]","v":-1.040},{"b":"(0.637,0.798]","v":-1.058}
]
},
"hconcat": [
{
  "width": 463, "height": 414,
  "title": {"text": "(a) Same UHR library preparation", "orient": "bottom", "anchor": "middle", "frame": "group", "dx": -25, "offset": 16},
  "data": {"name": "boxA"},
  "layer": [
    {"data": {"values": [{}]}, "mark": {"type": "rule", "color": "#000", "strokeWidth": 1, "strokeDash": [4, 3]},
     "encoding": {"y": {"datum": 0, "type": "quantitative", "scale": {"domain": [-1.0838, 1.0838], "nice": false, "zero": false},
       "axis": {"title": "log−fold−change", "values": [-1, -0.5, 0, 0.5, 1], "format": ".1f", "tickSize": 8, "labelPadding": 8, "titlePadding": 9}}}},
    {"mark": {"type": "rule", "color": "#000", "strokeWidth": 1, "strokeDash": [3, 3]},
     "encoding": {"x": {"field": "b", "type": "nominal", "scale": {"paddingInner": 0.2, "paddingOuter": 0.5, "align": 0.5},
       "axis": {"title": null, "labelAngle": -90, "tickSize": 7, "labelPadding": 10, "labelOverlap": false, "labelLimit": 0}},
       "y": {"field": "q3", "type": "quantitative", "scale": {"domain": [-1.0838, 1.0838], "nice": false, "zero": false}}, "y2": {"field": "uw"}}},
    {"mark": {"type": "rule", "color": "#000", "strokeWidth": 1, "strokeDash": [3, 3]},
     "encoding": {"x": {"field": "b", "type": "nominal"}, "y": {"field": "q1", "type": "quantitative"}, "y2": {"field": "lw"}}},
    {"mark": {"type": "tick", "color": "#000", "size": 18, "thickness": 1.3, "opacity": 1},
     "encoding": {"x": {"field": "b", "type": "nominal"}, "y": {"field": "uw", "type": "quantitative"}}},
    {"mark": {"type": "tick", "color": "#000", "size": 18, "thickness": 1.3, "opacity": 1},
     "encoding": {"x": {"field": "b", "type": "nominal"}, "y": {"field": "lw", "type": "quantitative"}}},
    {"mark": {"type": "tick", "color": "#222", "size": 34.3, "thickness": 1, "opacity": 1},
     "encoding": {"x": {"field": "b", "type": "nominal"}, "y": {"field": "q3", "type": "quantitative"}}},
    {"mark": {"type": "tick", "color": "#222", "size": 34.3, "thickness": 1, "opacity": 1},
     "encoding": {"x": {"field": "b", "type": "nominal"}, "y": {"field": "q1", "type": "quantitative"}}},
    {"mark": {"type": "rule", "color": "#222", "strokeWidth": 1, "xOffset": -17.15},
     "encoding": {"x": {"field": "b", "type": "nominal"}, "y": {"field": "q3", "type": "quantitative"}, "y2": {"field": "nhi"}}},
    {"mark": {"type": "rule", "color": "#222", "strokeWidth": 1, "xOffset": 17.15},
     "encoding": {"x": {"field": "b", "type": "nominal"}, "y": {"field": "q3", "type": "quantitative"}, "y2": {"field": "nhi"}}},
    {"mark": {"type": "rule", "color": "#222", "strokeWidth": 1, "xOffset": -17.15},
     "encoding": {"x": {"field": "b", "type": "nominal"}, "y": {"field": "q1", "type": "quantitative"}, "y2": {"field": "nlo"}}},
    {"mark": {"type": "rule", "color": "#222", "strokeWidth": 1, "xOffset": 17.15},
     "encoding": {"x": {"field": "b", "type": "nominal"}, "y": {"field": "q1", "type": "quantitative"}, "y2": {"field": "nlo"}}},
    {"mark": {"type": "rule", "color": "#222", "strokeWidth": 1, "xOffset": -17.15, "x2Offset": -8.57},
     "encoding": {"x": {"field": "b", "type": "nominal"}, "x2": {"field": "b"}, "y": {"field": "nhi", "type": "quantitative"}, "y2": {"field": "med"}}},
    {"mark": {"type": "rule", "color": "#222", "strokeWidth": 1, "xOffset": 17.15, "x2Offset": 8.57},
     "encoding": {"x": {"field": "b", "type": "nominal"}, "x2": {"field": "b"}, "y": {"field": "nhi", "type": "quantitative"}, "y2": {"field": "med"}}},
    {"mark": {"type": "rule", "color": "#222", "strokeWidth": 1, "xOffset": -17.15, "x2Offset": -8.57},
     "encoding": {"x": {"field": "b", "type": "nominal"}, "x2": {"field": "b"}, "y": {"field": "nlo", "type": "quantitative"}, "y2": {"field": "med"}}},
    {"mark": {"type": "rule", "color": "#222", "strokeWidth": 1, "xOffset": 17.15, "x2Offset": 8.57},
     "encoding": {"x": {"field": "b", "type": "nominal"}, "x2": {"field": "b"}, "y": {"field": "nlo", "type": "quantitative"}, "y2": {"field": "med"}}},
    {"mark": {"type": "tick", "color": "#ff0000", "size": 17.1, "thickness": 2.6, "opacity": 1},
     "encoding": {"x": {"field": "b", "type": "nominal"}, "y": {"field": "med", "type": "quantitative"}}},
    {"data": {"name": "outA"},
     "mark": {"type": "point", "shape": "circle", "filled": false, "stroke": "#000", "strokeWidth": 0.8, "size": 36, "opacity": 1},
     "encoding": {"x": {"field": "b", "type": "nominal"}, "y": {"field": "v", "type": "quantitative"}}}
  ]
},
{
  "width": 451, "height": 414,
  "view": {"stroke": null},
  "title": {"text": "(b) Different UHR library preparations", "orient": "bottom", "anchor": "middle", "frame": "group", "dx": -5, "offset": 16},
  "data": {"name": "boxB"},
  "layer": [
    {"data": {"values": [{}]}, "mark": {"type": "rule", "color": "#000", "strokeWidth": 1, "strokeDash": [4, 3]},
     "encoding": {"y": {"datum": 0, "type": "quantitative", "scale": {"domain": [-1.0838, 1.0838], "nice": false, "zero": false},
       "axis": {"title": "log−fold−change", "values": [-1, -0.5, 0, 0.5, 1], "format": ".1f", "tickSize": 8, "labelPadding": 8, "titlePadding": 9, "domain": true, "domainColor": "#000", "domainWidth": 1}}}},
    {"data": {"values": [{}]}, "mark": {"type": "rule", "color": "#000", "strokeWidth": 1},
     "encoding": {"y": {"datum": 1.0838, "type": "quantitative"}}},
    {"mark": {"type": "rule", "color": "#000", "strokeWidth": 1, "strokeDash": [3, 3]},
     "encoding": {"x": {"field": "b", "type": "nominal", "scale": {"paddingInner": 0.2, "paddingOuter": 0.36, "align": 0.6925},
       "axis": {"title": null, "labelAngle": -90, "tickSize": 7, "labelPadding": 10, "labelOverlap": false, "labelLimit": 0, "domain": true, "domainColor": "#000", "domainWidth": 1}},
       "y": {"field": "q3", "type": "quantitative", "scale": {"domain": [-1.0838, 1.0838], "nice": false, "zero": false}}, "y2": {"field": "uw"}}},
    {"mark": {"type": "rule", "color": "#000", "strokeWidth": 1, "strokeDash": [3, 3]},
     "encoding": {"x": {"field": "b", "type": "nominal"}, "y": {"field": "q1", "type": "quantitative"}, "y2": {"field": "lw"}}},
    {"mark": {"type": "tick", "color": "#000", "size": 18, "thickness": 1.3, "opacity": 1},
     "encoding": {"x": {"field": "b", "type": "nominal"}, "y": {"field": "uw", "type": "quantitative"}}},
    {"mark": {"type": "tick", "color": "#000", "size": 18, "thickness": 1.3, "opacity": 1},
     "encoding": {"x": {"field": "b", "type": "nominal"}, "y": {"field": "lw", "type": "quantitative"}}},
    {"mark": {"type": "tick", "color": "#222", "size": 34.3, "thickness": 1, "opacity": 1},
     "encoding": {"x": {"field": "b", "type": "nominal"}, "y": {"field": "q3", "type": "quantitative"}}},
    {"mark": {"type": "tick", "color": "#222", "size": 34.3, "thickness": 1, "opacity": 1},
     "encoding": {"x": {"field": "b", "type": "nominal"}, "y": {"field": "q1", "type": "quantitative"}}},
    {"mark": {"type": "rule", "color": "#222", "strokeWidth": 1, "xOffset": -17.15},
     "encoding": {"x": {"field": "b", "type": "nominal"}, "y": {"field": "q3", "type": "quantitative"}, "y2": {"field": "nhi"}}},
    {"mark": {"type": "rule", "color": "#222", "strokeWidth": 1, "xOffset": 17.15},
     "encoding": {"x": {"field": "b", "type": "nominal"}, "y": {"field": "q3", "type": "quantitative"}, "y2": {"field": "nhi"}}},
    {"mark": {"type": "rule", "color": "#222", "strokeWidth": 1, "xOffset": -17.15},
     "encoding": {"x": {"field": "b", "type": "nominal"}, "y": {"field": "q1", "type": "quantitative"}, "y2": {"field": "nlo"}}},
    {"mark": {"type": "rule", "color": "#222", "strokeWidth": 1, "xOffset": 17.15},
     "encoding": {"x": {"field": "b", "type": "nominal"}, "y": {"field": "q1", "type": "quantitative"}, "y2": {"field": "nlo"}}},
    {"mark": {"type": "rule", "color": "#222", "strokeWidth": 1, "xOffset": -17.15, "x2Offset": -8.57},
     "encoding": {"x": {"field": "b", "type": "nominal"}, "x2": {"field": "b"}, "y": {"field": "nhi", "type": "quantitative"}, "y2": {"field": "med"}}},
    {"mark": {"type": "rule", "color": "#222", "strokeWidth": 1, "xOffset": 17.15, "x2Offset": 8.57},
     "encoding": {"x": {"field": "b", "type": "nominal"}, "x2": {"field": "b"}, "y": {"field": "nhi", "type": "quantitative"}, "y2": {"field": "med"}}},
    {"mark": {"type": "rule", "color": "#222", "strokeWidth": 1, "xOffset": -17.15, "x2Offset": -8.57},
     "encoding": {"x": {"field": "b", "type": "nominal"}, "x2": {"field": "b"}, "y": {"field": "nlo", "type": "quantitative"}, "y2": {"field": "med"}}},
    {"mark": {"type": "rule", "color": "#222", "strokeWidth": 1, "xOffset": 17.15, "x2Offset": 8.57},
     "encoding": {"x": {"field": "b", "type": "nominal"}, "x2": {"field": "b"}, "y": {"field": "nlo", "type": "quantitative"}, "y2": {"field": "med"}}},
    {"mark": {"type": "tick", "color": "#ff0000", "size": 17.1, "thickness": 2.6, "opacity": 1},
     "encoding": {"x": {"field": "b", "type": "nominal"}, "y": {"field": "med", "type": "quantitative"}}},
    {"data": {"name": "outB"},
     "mark": {"type": "point", "shape": "circle", "filled": false, "stroke": "#000", "strokeWidth": 0.8, "size": 36, "opacity": 1},
     "encoding": {"x": {"field": "b", "type": "nominal"}, "y": {"field": "v", "type": "quantitative"}}}
  ]
}
]
}
